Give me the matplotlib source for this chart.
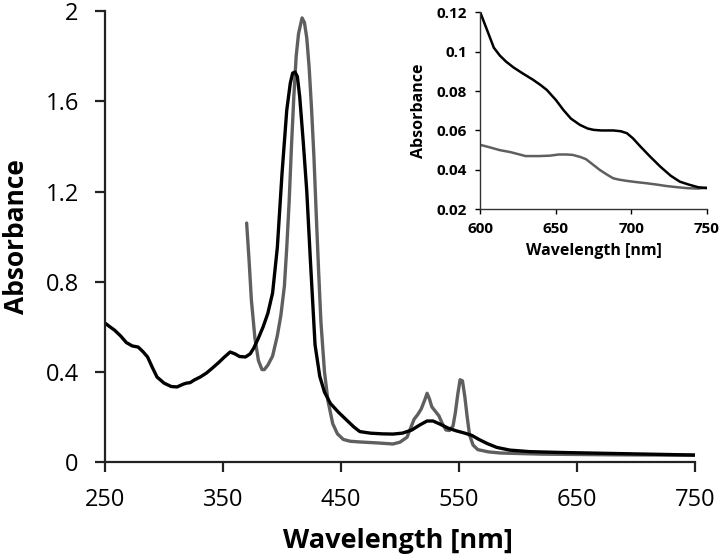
import matplotlib.pyplot as plt

plt.rcParams['font.family'] = ['Open Sans', 'DejaVu Sans']

# main spectrum, black curve
black_nm = [250, 254, 258, 263, 268, 273, 278, 282, 286, 290, 294, 300, 306, 311, 316, 319, 322,
            326, 331, 336, 341, 346, 351, 356, 360, 364, 369, 373, 376, 380, 384, 388, 392, 396,
            400, 404, 407, 409, 411, 413, 415, 418, 421, 424, 428, 432, 436, 441, 448, 455, 461,
            466, 475, 485, 494, 502, 510, 517, 523, 528, 534, 541, 548, 555, 561, 567, 574, 582,
            593, 610, 640, 680, 720, 750]
black_abs = [0.616, 0.60, 0.585, 0.56, 0.53, 0.515, 0.51, 0.49, 0.466, 0.42, 0.377, 0.35, 0.335,
             0.333, 0.345, 0.35, 0.352, 0.365, 0.378, 0.395, 0.417, 0.44, 0.465, 0.488, 0.48,
             0.468, 0.466, 0.48, 0.505, 0.55, 0.60, 0.66, 0.75, 0.95, 1.28, 1.56, 1.68, 1.725,
             1.73, 1.71, 1.62, 1.42, 1.20, 0.90, 0.52, 0.38, 0.31, 0.26, 0.22, 0.185, 0.155,
             0.135, 0.128, 0.125, 0.124, 0.128, 0.142, 0.165, 0.182, 0.182, 0.168, 0.150, 0.138,
             0.128, 0.118, 0.10, 0.082, 0.065, 0.053, 0.046, 0.042, 0.038, 0.034, 0.031]

# main spectrum, grey curve
grey_nm = [370, 372, 374, 377, 380, 383, 385, 388, 392, 396, 399, 402, 404, 406, 408, 410, 412,
           414, 417, 419, 421, 423, 425, 427, 429, 431, 433, 436, 439, 443, 447, 452, 458, 466,
           480, 494, 500, 506, 509, 512, 515, 518, 521, 523, 525, 527, 530, 533, 536, 539, 542,
           545, 547, 549, 551, 553, 555, 557, 559, 562, 566, 575, 585, 620, 680, 750]
grey_abs = [1.06, 0.90, 0.72, 0.55, 0.45, 0.41, 0.41, 0.43, 0.47, 0.56, 0.65, 0.78, 0.95, 1.15,
            1.40, 1.62, 1.80, 1.90, 1.97, 1.95, 1.88, 1.75, 1.57, 1.36, 1.10, 0.85, 0.62, 0.40,
            0.27, 0.17, 0.125, 0.10, 0.092, 0.089, 0.085, 0.08, 0.088, 0.11, 0.15, 0.19, 0.21,
            0.235, 0.275, 0.305, 0.28, 0.245, 0.225, 0.205, 0.17, 0.142, 0.14, 0.16, 0.22, 0.30,
            0.365, 0.36, 0.29, 0.20, 0.12, 0.075, 0.055, 0.045, 0.04, 0.035, 0.032, 0.03]

# inset: 600-750 nm zoom
inset_black_nm = [600, 603, 606, 609, 613, 617, 622, 628, 635, 640, 644, 650, 655, 660, 666, 671,
                  675, 680, 688, 693, 697, 701, 706, 712, 719, 726, 732, 738, 744, 750]
inset_black_abs = [0.120, 0.114, 0.108, 0.102, 0.098, 0.095, 0.092, 0.089, 0.0857, 0.083,
                   0.0806, 0.0755, 0.0704, 0.066, 0.0628, 0.061, 0.0603, 0.060, 0.060, 0.0596,
                   0.0586, 0.056, 0.0518, 0.047, 0.0417, 0.037, 0.034, 0.0325, 0.0312, 0.0307]
inset_grey_nm = [600, 606, 613, 620, 630, 639, 646, 652, 657, 661, 666, 670, 674, 679, 684, 688,
                 692, 697, 703, 710, 717, 723, 730, 737, 744, 750]
inset_grey_abs = [0.0527, 0.0515, 0.050, 0.049, 0.047, 0.047, 0.0472, 0.0478, 0.0478, 0.0476,
                  0.0466, 0.0454, 0.043, 0.040, 0.0375, 0.0357, 0.035, 0.0344, 0.0338, 0.0332,
                  0.0325, 0.0318, 0.0312, 0.0307, 0.0305, 0.031]

fig = plt.figure(figsize=(7.2, 5.58), dpi=100)
ax = fig.add_axes([0.146, 0.172, 0.819, 0.808])
ax.plot(grey_nm, grey_abs, color='#5f5f5f', lw=2.4, solid_capstyle='round', solid_joinstyle='round')
ax.plot(black_nm, black_abs, color='#000000', lw=2.4, solid_capstyle='round', solid_joinstyle='round')
ax.set_xlim(250, 750)
ax.set_ylim(0, 2)
ax.set_xticks([250, 350, 450, 550, 650, 750])
ax.set_yticks([0, 0.4, 0.8, 1.2, 1.6, 2])
ax.set_yticklabels(['0', '0.4', '0.8', '1.2', '1.6', '2'])
for s in ['top', 'right']:
    ax.spines[s].set_visible(False)
for s in ['left', 'bottom']:
    ax.spines[s].set_linewidth(1.6)
    ax.spines[s].set_color('#222222')
ax.tick_params(direction='out', length=7, width=1.6, color='#222222', labelsize=17, pad=12)
ax.set_xlabel('Wavelength [nm]', fontsize=19.5, fontweight='bold')
ax.set_ylabel('Absorbance', fontsize=19, fontweight='bold')
ax.xaxis.set_label_coords(0.497, -0.146)
ax.yaxis.set_label_coords(-0.127, 0.5)

ins = fig.add_axes([0.667, 0.625, 0.315, 0.353])
ins.plot(inset_grey_nm, inset_grey_abs, color='#5f5f5f', lw=1.8)
ins.plot(inset_black_nm, inset_black_abs, color='#000000', lw=1.8)
ins.set_xlim(600, 750)
ins.set_ylim(0.02, 0.12)
ins.set_xticks([600, 650, 700, 750])
ins.set_yticks([0.02, 0.04, 0.06, 0.08, 0.1, 0.12])
ins.set_yticklabels(['0.02', '0.04', '0.06', '0.08', '0.1', '0.12'])
for s in ['top', 'right']:
    ins.spines[s].set_visible(False)
for s in ['left', 'bottom']:
    ins.spines[s].set_linewidth(1.0)
    ins.spines[s].set_color('#333333')
ins.tick_params(direction='out', length=3.5, width=1.0, labelsize=11, pad=6)
for lab in ins.get_xticklabels() + ins.get_yticklabels():
    lab.set_fontweight('bold')
ins.set_xlabel('Wavelength [nm]', fontsize=11.5, fontweight='bold')
ins.set_ylabel('Absorbance', fontsize=11.5, fontweight='bold')
ins.xaxis.set_label_coords(0.5, -0.17)
ins.yaxis.set_label_coords(-0.233, 0.5)

fig.savefig('out.png', dpi=100)
